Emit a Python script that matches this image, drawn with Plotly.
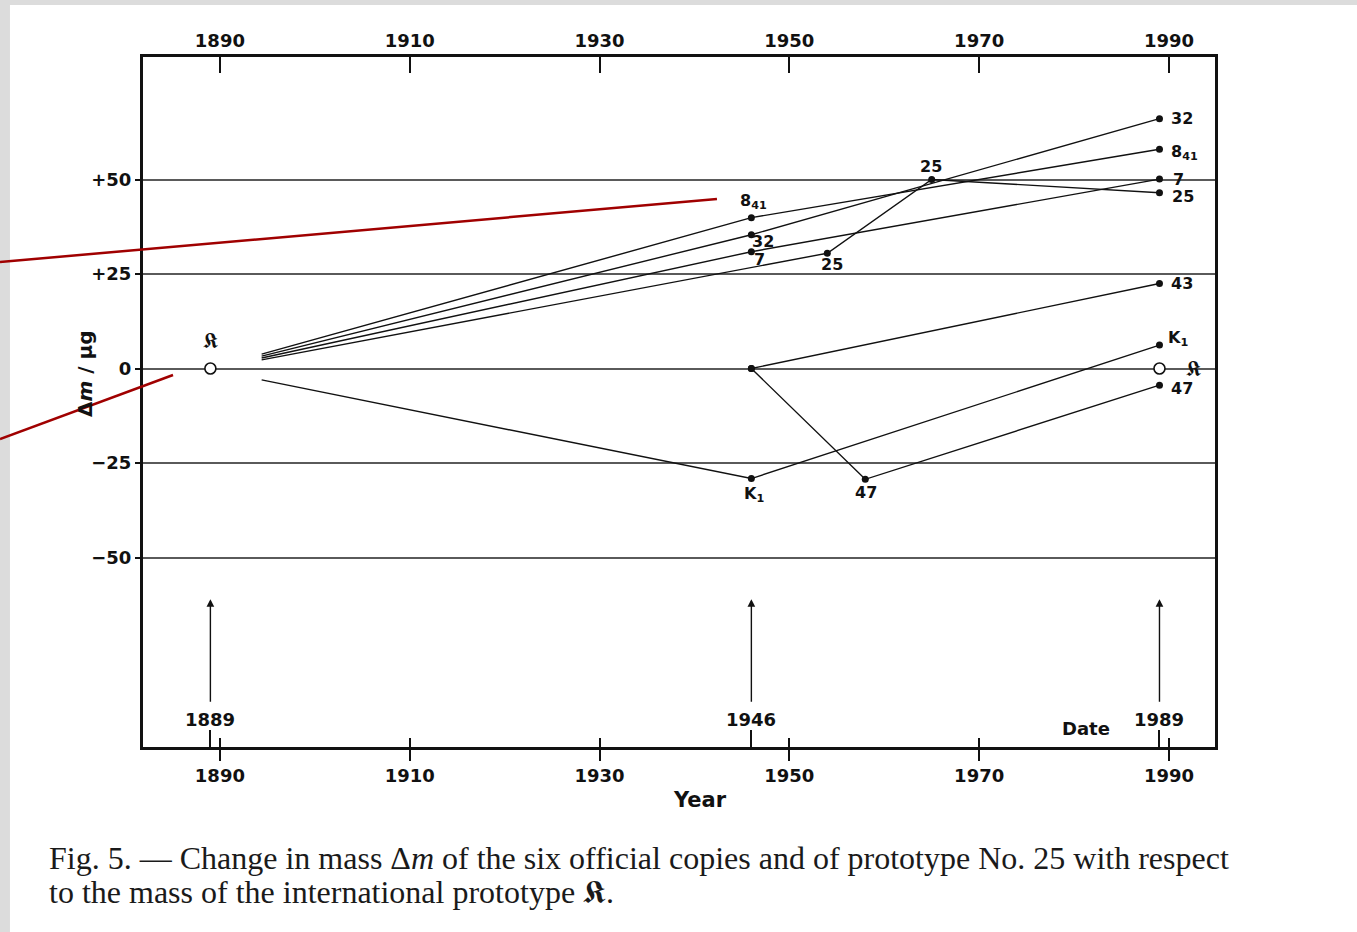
import plotly.graph_objects as go

# ---------------- data ----------------
start_year = 1894.4          # common origin of the sketched lines

copy_841_years = [start_year, 1946, 1989]
copy_841_dm = [3.8, 39.9, 58.0]

copy_32_years = [start_year, 1946, 1989]
copy_32_dm = [3.3, 35.4, 66.1]

copy_7_years = [start_year, 1946, 1989]
copy_7_dm = [2.8, 30.9, 50.1]

proto_25_years = [start_year, 1954, 1965, 1989]
proto_25_dm = [2.3, 30.5, 50.0, 46.5]

copy_43_years = [1946, 1989]
copy_43_dm = [0.0, 22.5]

copy_47_years = [1946, 1958, 1989]
copy_47_dm = [0.0, -29.3, -4.4]

copy_K1_years = [start_year, 1946, 1989]
copy_K1_dm = [-3.0, -29.1, 6.2]

intl_K_years = [1889, 1989]
intl_K_dm = [0.0, 0.0]

date_years = [1889, 1946, 1989]
date_labels = ["1889", "1946", "1989"]

x_tick_years = [1890, 1910, 1930, 1950, 1970, 1990]
x_tick_text = ["1890", "1910", "1930", "1950", "1970", "1990"]
y_tick_vals = [50, 25, 0, -25, -50]
y_tick_text = ["+50", "+25", "0", "\u221225", "\u221250"]

KSYM = "\U0001D576"  # bold fraktur K

series = {
    "841": (copy_841_years, copy_841_dm),
    "32": (copy_32_years, copy_32_dm),
    "7": (copy_7_years, copy_7_dm),
    "25": (proto_25_years, proto_25_dm),
    "43": (copy_43_years, copy_43_dm),
    "47": (copy_47_years, copy_47_dm),
    "K1": (copy_K1_years, copy_K1_dm),
}

# label placement: (series, point index, text, xshift, yshift, xanchor)
label_style = [
    ("841", 1, "8<sub>41</sub>", 2, 16, "center"),
    ("841", 2, "8<sub>41</sub>", 10, -3, "left"),
    ("32", 1, "32", 12, -7, "center"),
    ("32", 2, "32", 10, 0, "left"),
    ("7", 1, "7", 8, -8, "center"),
    ("7", 2, "7", 12, 0, "left"),
    ("25", 1, "25", 5, -11, "center"),
    ("25", 2, "25", -1, 13, "center"),
    ("25", 3, "25", 11, -4, "left"),
    ("43", 1, "43", 10, 0, "left"),
    ("47", 1, "47", 1, -13, "center"),
    ("47", 2, "47", 10, -3, "left"),
    ("K1", 1, "K<sub>1</sub>", 3, -16, "center"),
    ("K1", 2, "K<sub>1</sub>", 7, 7, "left"),
]

SANS = "DejaVu Sans"
SERIF = "Liberation Serif"
INK = "#111111"

fig = go.Figure()

for key, (xs, ys) in series.items():
    fig.add_trace(go.Scatter(x=xs, y=ys, mode="lines",
                             line=dict(color=INK, width=1.4),
                             showlegend=False, hoverinfo="skip"))
    mx = [x for x in xs if x != start_year]
    my = [y for x, y in zip(xs, ys) if x != start_year]
    fig.add_trace(go.Scatter(x=mx, y=my, mode="markers",
                             marker=dict(color=INK, size=7),
                             showlegend=False))

fig.add_trace(go.Scatter(x=intl_K_years, y=intl_K_dm, mode="markers",
                         marker=dict(color="white", size=11,
                                     line=dict(color=INK, width=1.6)),
                         showlegend=False))

# dummy traces so the overlay axes are drawn
fig.add_trace(go.Scatter(x=x_tick_years, y=[None] * len(x_tick_years),
                         xaxis="x2", showlegend=False, hoverinfo="skip"))
fig.add_trace(go.Scatter(x=x_tick_years, y=[None] * len(x_tick_years),
                         xaxis="x3", showlegend=False, hoverinfo="skip"))

annotations = []
lab_font = dict(family=SANS, size=16, color=INK, weight="bold")
for key, idx, text, dx, dy, anchor in label_style:
    xs, ys = series[key]
    annotations.append(dict(x=xs[idx], y=ys[idx], text=text, showarrow=False,
                            xanchor=anchor, yanchor="middle",
                            xshift=dx, yshift=dy, font=lab_font))

# international prototype symbol
ksym_font = dict(family="DejaVu Serif", size=21, color=INK)
annotations.append(dict(x=intl_K_years[0], y=intl_K_dm[0], text=KSYM,
                        showarrow=False, xanchor="center", yanchor="middle",
                        yshift=28, font=ksym_font))
annotations.append(dict(x=intl_K_years[1], y=intl_K_dm[1], text=KSYM,
                        showarrow=False, xanchor="left", yanchor="middle",
                        xshift=25, font=ksym_font))

# date arrows and labels
for yr, lab in zip(date_years, date_labels):
    annotations.append(dict(x=yr, y=-61, ax=yr, ay=-88.5, axref="x", ayref="y",
                            xref="x", yref="y", text="", showarrow=True,
                            arrowhead=2, arrowsize=1.1, arrowwidth=1.4,
                            arrowcolor=INK))
    annotations.append(dict(x=yr, y=-92.8, text=lab, showarrow=False,
                            xanchor="center", yanchor="middle",
                            font=dict(family=SANS, size=18, color=INK,
                                      weight="bold")))
annotations.append(dict(x=1981.3, y=-95.2, text="Date", showarrow=False,
                        xanchor="center", yanchor="middle",
                        font=dict(family=SANS, size=18, color=INK, weight="bold")))

# axis titles
annotations.append(dict(xref="paper", yref="paper", x=0.5196, y=-0.0768,
                        xanchor="center", yanchor="middle",
                        text="Year", showarrow=False,
                        font=dict(family=SANS, size=21, color=INK, weight="bold")))
annotations.append(dict(xref="paper", yref="paper", x=-0.0541, y=0.5406,
                        xanchor="center", yanchor="middle",
                        text="\u0394<i>m</i> / \u00b5g", textangle=-90,
                        showarrow=False,
                        font=dict(family=SANS, size=20, color=INK, weight="bold")))

# caption
cap_font = dict(family=SERIF, size=32, color="#1a1a1a")
annotations.append(dict(xref="paper", yref="paper", x=-0.0896, y=-0.1609,
                        xanchor="left", yanchor="middle", showarrow=False,
                        text="Fig. 5. \u2014 Change in mass \u0394<i>m</i> of the six official copies and of prototype No. 25 with respect",
                        font=cap_font))
annotations.append(dict(xref="paper", yref="paper", x=-0.0896, y=-0.2101,
                        xanchor="left", yanchor="middle", showarrow=False,
                        text="to the mass of the international prototype " + KSYM + ".",
                        font=cap_font))

shapes = [
    # scanner border
    dict(type="rect", xref="paper", yref="paper", x0=-0.1334, x1=-0.1241,
         y0=-0.2681, y1=1.0826, fillcolor="#dcdcdc", line=dict(width=0)),
    dict(type="rect", xref="paper", yref="paper", x0=-0.1334, x1=1.1325,
         y0=1.0754, y1=1.0826, fillcolor="#dcdcdc", line=dict(width=0)),
    # red pointer lines drawn over the scan
    dict(type="line", xref="paper", yref="paper", x0=-0.1334, y0=0.7029,
         x1=0.5354, y1=0.7942, line=dict(color="#a00000", width=2.5)),
    dict(type="line", xref="paper", yref="paper", x0=-0.1334, y0=0.4464,
         x1=0.0280, y1=0.5391, line=dict(color="#a00000", width=2.5)),
]

tick_font = dict(family=SANS, size=18, color=INK, weight="bold")
xrange = [1881.9, 1994.85]

fig.update_layout(
    width=1357, height=932,
    margin=dict(l=143, r=142, t=57, b=185, autoexpand=False),
    paper_bgcolor="white", plot_bgcolor="white",
    showlegend=False,
    annotations=annotations, shapes=shapes,
    xaxis=dict(range=xrange, tickmode="array", tickvals=x_tick_years,
               ticktext=x_tick_text, ticks="outside", ticklen=11, tickwidth=2,
               tickcolor=INK, tickfont=tick_font, showline=True, linewidth=2.5,
               linecolor=INK, showgrid=False, zeroline=False,
               minor=dict(tickmode="array", tickvals=date_years, ticks="inside",
                          ticklen=17, tickwidth=1.5, tickcolor=INK, showgrid=False)),
    xaxis2=dict(range=xrange, overlaying="x", side="top", anchor="y",
                tickmode="array", tickvals=x_tick_years, ticktext=x_tick_text,
                ticks="inside", ticklen=16, tickwidth=2, tickcolor=INK,
                tickfont=tick_font, showline=True, linewidth=2.5, linecolor=INK,
                showgrid=False, zeroline=False),
    xaxis3=dict(range=xrange, overlaying="x", side="bottom", anchor="y",
                tickmode="array", tickvals=x_tick_years, ticks="inside",
                ticklen=9, tickwidth=2, tickcolor=INK, showticklabels=False,
                showline=False, showgrid=False, zeroline=False),
    yaxis=dict(range=[-100.1, 82.4], tickmode="array", tickvals=y_tick_vals,
               ticktext=y_tick_text, ticks="outside", ticklen=5, tickwidth=2,
               tickcolor=INK, tickfont=tick_font, showline=True, linewidth=3,
               linecolor=INK, mirror=True, showgrid=True, gridcolor="#5a5a5a",
               gridwidth=1.7, zeroline=False),
)

fig.write_html("out.html",
               config={"displayModeBar": False},
               post_script="document.body.style.margin='0px';"
                           "document.body.style.overflow='hidden';")
